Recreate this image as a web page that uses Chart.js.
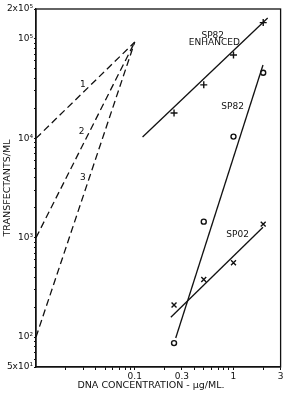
<!DOCTYPE html>
<html lang="en">
<head>
  <meta charset="UTF-8" />
  <title>Transfectants vs DNA concentration</title>
  <script src="https://cdn.jsdelivr.net/npm/chart.js"></script>
  <style>
    html, body { margin: 0; padding: 0; background: #fff; }
    #wrap { width: 286px; height: 393px; }
  </style>
</head>
<body>
  <div id="wrap"><canvas id="transfChart"></canvas></div>

  <script>
    // --- data (µg/ML on x, transfectants/ML on y) ---
    const conc = [0.25, 0.5, 1, 2];
    const enhancedVals = [18000, 34500, 69000, 146000];
    const sp82Vals = [87, 1450, 10400, 45700];
    const sp02Vals = [210, 380, 560, 1370];

    // fitted lines drawn through the points (end points)
    const enhancedFitX = [0.12, 2.22];
    const enhancedFitY = [10300, 162000];
    const sp82FitX = [0.26, 1.99];
    const sp82FitY = [98, 54700];
    const sp02FitX = [0.232, 1.99];
    const sp02FitY = [158, 1273];

    // dashed reference lines 1, 2, 3
    const dashX = [0.01, 0.1];
    const dash1Y = [10000, 93000];
    const dash2Y = [1000, 93000];
    const dash3Y = [100, 93000];

    // axis ticks
    const xTickVals = [0.02, 0.03, 0.04, 0.05, 0.06, 0.07, 0.08, 0.09, 0.1,
                       0.2, 0.3, 0.4, 0.5, 0.6, 0.7, 0.8, 0.9, 1, 2, 3];
    const xLabelVals = [0.1, 0.3, 1, 3];
    const xLabelText = ['0.1', '0.3', '1', '3'];
    const yTickVals = [50, 60, 70, 80, 90, 100, 200, 300, 400, 500, 600, 700, 800, 900,
                       1000, 2000, 3000, 4000, 5000, 6000, 7000, 8000, 9000,
                       10000, 20000, 30000, 40000, 50000, 60000, 70000, 80000, 90000,
                       100000, 200000];
    const yLabelVals = [50, 100, 1000, 10000, 100000, 200000];
    const yLabelText = ['5x10¹', '10²', '10³', '10⁴', '10⁵', '2x10⁵'];

    // text labels in the plot (data coords)
    const notes = [
      { text: '1', x: 0.0299, y: 34400 },
      { text: '2', x: 0.029, y: 11600 },
      { text: '3', x: 0.0299, y: 3990 },
      { text: 'SP82', x: 0.617, y: 109000 },
      { text: 'ENHANCED', x: 0.64, y: 91000 },
      { text: 'SP82', x: 0.98, y: 20700 },
      { text: 'SP02', x: 1.1, y: 1065 }
    ];

    const FONT = '"DejaVu Sans", sans-serif';
    const pts = (xs, ys) => xs.map((x, i) => ({ x: x, y: ys[i] }));
    const findLabel = (v, vals, texts) => {
      const i = vals.findIndex(t => Math.abs(t - v) / t < 1e-6);
      return i >= 0 ? texts[i] : '';
    };

    const solid = (data) => ({ data: data, borderColor: '#111', borderWidth: 1.3, pointRadius: 0, fill: false });
    const dashed = (data) => ({ data: data, borderColor: '#111', borderWidth: 1.3, borderDash: [7, 4], pointRadius: 0, fill: false });
    const marks = (data, style, r) => ({
      data: data, showLine: false, pointStyle: style, pointRadius: r,
      pointBorderColor: '#111', pointBackgroundColor: 'rgba(0,0,0,0)', pointBorderWidth: 1.4
    });

    // frame + annotations + axis titles
    const decor = {
      id: 'decor',
      afterDraw(chart) {
        const { ctx, chartArea: a, scales } = chart;
        ctx.save();
        ctx.strokeStyle = '#111';
        ctx.lineWidth = 1.3;
        ctx.strokeRect(a.left, a.top, a.right - a.left, a.bottom - a.top);

        ctx.fillStyle = '#111';
        ctx.font = '9px ' + FONT;
        ctx.textAlign = 'center';
        ctx.textBaseline = 'middle';
        notes.forEach(n => {
          ctx.fillText(n.text, scales.x.getPixelForValue(n.x), scales.y.getPixelForValue(n.y));
        });

        ctx.font = '9.5px ' + FONT;
        ctx.fillText('DNA CONCENTRATION - µg/ML.', 151, 386);

        ctx.translate(8, 188);
        ctx.rotate(-Math.PI / 2);
        ctx.fillText('TRANSFECTANTS/ML', 0, 0);
        ctx.restore();
      }
    };

    new Chart(document.getElementById('transfChart'), {
      type: 'line',
      data: {
        datasets: [
          solid(pts(enhancedFitX, enhancedFitY)),
          marks(pts(conc, enhancedVals), 'cross', 3.5),
          solid(pts(sp82FitX, sp82FitY)),
          marks(pts(conc, sp82Vals), 'circle', 2.5),
          solid(pts(sp02FitX, sp02FitY)),
          marks(pts(conc, sp02Vals), 'crossRot', 3.5),
          dashed(pts(dashX, dash1Y)),
          dashed(pts(dashX, dash2Y)),
          dashed(pts(dashX, dash3Y))
        ]
      },
      options: {
        responsive: true,
        maintainAspectRatio: false,
        animation: false,
        devicePixelRatio: 1,
        layout: { padding: { top: 9, right: 5, left: 0, bottom: 0 } },
        plugins: { legend: { display: false }, tooltip: { enabled: false } },
        elements: { line: { tension: 0 } },
        scales: {
          x: {
            type: 'logarithmic',
            min: 0.01,
            max: 3,
            afterBuildTicks: s => { s.ticks = xTickVals.map(v => ({ value: v })); },
            afterFit: s => { s.height = 26; },
            grid: { display: true, drawOnChartArea: false, drawTicks: true, tickLength: 3, color: '#111' },
            border: { display: true, color: '#111', width: 1.3 },
            ticks: {
              autoSkip: false, maxRotation: 0, padding: 1, color: '#111',
              font: { family: FONT, size: 9 },
              callback: v => findLabel(v, xLabelVals, xLabelText)
            }
          },
          y: {
            type: 'logarithmic',
            min: 50,
            max: 200000,
            afterBuildTicks: s => { s.ticks = yTickVals.map(v => ({ value: v })); },
            afterFit: s => { s.width = 36; },
            grid: { display: true, drawOnChartArea: false, drawTicks: true, tickLength: 2, color: '#111' },
            border: { display: true, color: '#111', width: 1.3 },
            ticks: {
              autoSkip: false, padding: 1, color: '#111',
              font: { family: FONT, size: 9 },
              callback: v => findLabel(v, yLabelVals, yLabelText)
            }
          }
        }
      },
      plugins: [decor]
    });
  </script>
</body>
</html>
